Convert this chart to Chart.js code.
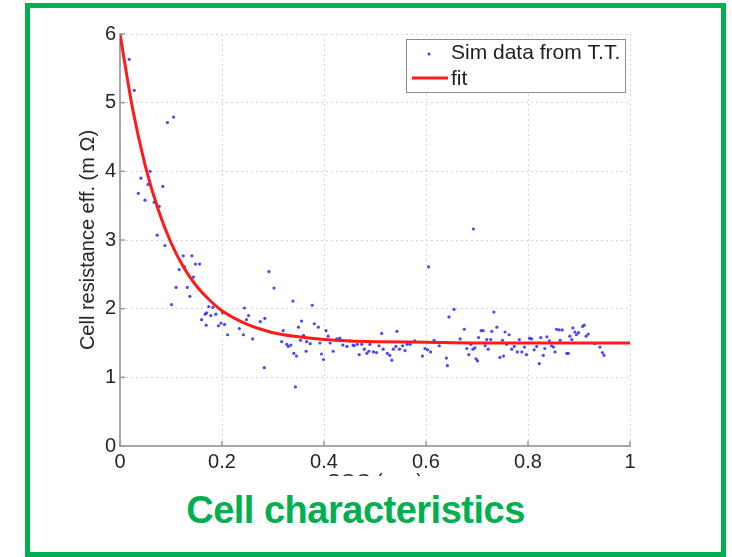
<!DOCTYPE html>
<html lang="en">
<head>
    <meta charset="UTF-8">
    <title>Cell characteristics</title>
    <script src="https://cdn.jsdelivr.net/npm/chart.js"></script>
    <style>
        body { margin: 0; background: #fff; font-family: "Liberation Sans", Arial, sans-serif; }
        #chart { position: absolute; left: 0; top: 0; }
        .frame {
            position: absolute; left: 25px; top: 3px;
            width: 691px; height: 544px;
            border: 5px solid #00b050;
            pointer-events: none;
        }
        .caption {
            position: absolute; left: 30px; top: 476px;
            width: 651px; height: 71px;
            padding-top: 15px; box-sizing: border-box;
            background: #fff;
            color: #00b050; font-weight: bold; font-size: 38px; line-height: 38px;
            text-align: center; letter-spacing: -0.5px;
        }
    </style>
</head>
<body>
    <canvas id="chart" width="732" height="557"></canvas>
    <div class="caption">Cell characteristics</div>
    <div class="frame"></div>

    <script>
        // simulated points (SOC, resistance)
        const simX = [0.018, 0.028, 0.036, 0.041, 0.049, 0.055, 0.059, 0.067, 0.073, 0.077, 0.084, 0.088, 0.093, 0.101, 0.105, 0.110, 0.116, 0.124, 0.127, 0.132,
            0.137, 0.141, 0.144, 0.148, 0.156, 0.160, 0.167, 0.169, 0.170, 0.174, 0.178, 0.182, 0.188, 0.193, 0.198, 0.201, 0.205, 0.211, 0.234, 0.242,
            0.244, 0.248, 0.252, 0.260, 0.275, 0.283, 0.284, 0.292, 0.302, 0.317, 0.320, 0.327, 0.330, 0.335, 0.339, 0.341, 0.344, 0.346, 0.350, 0.354,
            0.356, 0.360, 0.365, 0.366, 0.373, 0.377, 0.381, 0.389, 0.392, 0.395, 0.399, 0.404, 0.408, 0.412, 0.418, 0.425, 0.431, 0.437, 0.445, 0.451,
            0.457, 0.459, 0.465, 0.469, 0.474, 0.479, 0.484, 0.488, 0.490, 0.497, 0.503, 0.508, 0.513, 0.516, 0.524, 0.529, 0.533, 0.536, 0.541, 0.543,
            0.548, 0.554, 0.559, 0.563, 0.569, 0.578, 0.593, 0.598, 0.603, 0.605, 0.609, 0.616, 0.626, 0.640, 0.642, 0.645, 0.655, 0.667, 0.675, 0.680,
            0.684, 0.688, 0.692, 0.693, 0.696, 0.698, 0.701, 0.703, 0.708, 0.712, 0.716, 0.719, 0.722, 0.727, 0.729, 0.733, 0.739, 0.745, 0.750, 0.752,
            0.755, 0.758, 0.763, 0.768, 0.773, 0.779, 0.783, 0.788, 0.793, 0.797, 0.803, 0.807, 0.812, 0.817, 0.822, 0.825, 0.830, 0.833, 0.837, 0.842,
            0.846, 0.850, 0.853, 0.856, 0.861, 0.863, 0.867, 0.876, 0.879, 0.882, 0.886, 0.888, 0.892, 0.895, 0.899, 0.907, 0.910, 0.914, 0.918, 0.931,
            0.941, 0.946, 0.949];
        const simY = [5.63, 5.18, 3.68, 3.90, 3.58, 3.81, 4.00, 3.55, 3.07, 3.49, 3.78, 2.92, 4.71, 2.06, 4.79, 2.31, 2.57, 2.77, 2.61, 2.31,
            2.18, 2.77, 2.46, 2.65, 2.65, 1.84, 1.92, 1.76, 1.94, 2.03, 1.90, 2.02, 1.92, 1.75, 1.79, 1.94, 1.77, 1.62, 1.71, 1.62,
            2.01, 1.84, 1.90, 1.56, 1.81, 1.14, 1.86, 2.54, 2.30, 1.52, 1.68, 1.48, 1.45, 1.47, 2.11, 1.35, 0.86, 1.31, 1.73, 1.54,
            1.82, 1.61, 1.38, 1.52, 1.49, 2.05, 1.78, 1.73, 1.50, 1.34, 1.26, 1.68, 1.60, 1.50, 1.38, 1.56, 1.57, 1.47, 1.45, 1.53,
            1.47, 1.46, 1.48, 1.33, 1.48, 1.41, 1.35, 1.38, 1.48, 1.37, 1.36, 1.46, 1.64, 1.41, 1.35, 1.32, 1.25, 1.41, 1.45, 1.67,
            1.41, 1.46, 1.39, 1.48, 1.48, 1.53, 1.31, 1.42, 1.40, 2.61, 1.37, 1.54, 1.46, 1.28, 1.17, 1.88, 1.99, 1.56, 1.70, 1.42,
            1.33, 1.48, 1.41, 3.16, 1.43, 1.27, 1.24, 1.58, 1.68, 1.68, 1.46, 1.55, 1.41, 1.55, 1.67, 1.95, 1.73, 1.29, 1.54, 1.31,
            1.66, 1.48, 1.62, 1.41, 1.45, 1.37, 1.55, 1.37, 1.44, 1.33, 1.57, 1.56, 1.40, 1.45, 1.20, 1.58, 1.32, 1.42, 1.59, 1.53,
            1.46, 1.44, 1.37, 1.70, 1.69, 1.54, 1.69, 1.35, 1.35, 1.60, 1.55, 1.72, 1.66, 1.62, 1.65, 1.74, 1.76, 1.60, 1.63, 1.49,
            1.44, 1.36, 1.32];

        // fit curve
        const fitX = [0, 0.025, 0.05, 0.075, 0.1, 0.125, 0.15, 0.175, 0.2, 0.25, 0.3, 0.35, 0.4, 0.45, 0.5, 0.6, 0.7, 0.8, 0.9, 1.0];
        const fitY = [6.00, 4.90, 4.07, 3.44, 2.96, 2.60, 2.33, 2.13, 1.97, 1.77, 1.65, 1.59, 1.55, 1.53, 1.52, 1.51, 1.50, 1.50, 1.50, 1.50];

        const xTickLabels = ['0', '0.2', '0.4', '0.6', '0.8', '1'];
        const yTickLabels = ['0', '1', '2', '3', '4', '5', '6'];

        const seriesNames = ['Sim data from T.T.', 'fit'];

        const simPoints = simX.map((x, i) => ({ x: x, y: simY[i] }));
        const fitPoints = fitX.map((x, i) => ({ x: x, y: fitY[i] }));

        const font = 'Liberation Sans, Arial, sans-serif';

        // inward ticks and the boxed legend, like the matlab figure
        const matlabBits = {
            id: 'matlabBits',
            afterDatasetsDraw(chart) {
                const ctx = chart.ctx;
                const area = chart.chartArea;
                const xs = chart.scales.x, ys = chart.scales.y;
                ctx.save();
                ctx.strokeStyle = '#9a9a9a';
                ctx.lineWidth = 1.5;
                xs.ticks.forEach(t => {
                    const px = xs.getPixelForValue(t.value);
                    ctx.beginPath();
                    ctx.moveTo(px, area.bottom);
                    ctx.lineTo(px, area.bottom - 5);
                    ctx.stroke();
                });
                ys.ticks.forEach(t => {
                    const py = ys.getPixelForValue(t.value);
                    ctx.beginPath();
                    ctx.moveTo(area.left, py);
                    ctx.lineTo(area.left + 5, py);
                    ctx.stroke();
                });

                // legend box
                const bx = area.right - 224, by = area.top + 5, bw = 219, bh = 53;
                ctx.fillStyle = '#fff';
                ctx.fillRect(bx, by, bw, bh);
                ctx.strokeStyle = '#8c8c8c';
                ctx.lineWidth = 1;
                ctx.strokeRect(bx + 0.5, by + 0.5, bw, bh);

                ctx.fillStyle = 'rgba(40,40,255,0.9)';
                ctx.beginPath();
                ctx.arc(bx + 23, by + 15, 1.5, 0, Math.PI * 2);
                ctx.fill();

                ctx.strokeStyle = '#ff1a1a';
                ctx.lineWidth = 3;
                ctx.beginPath();
                ctx.moveTo(bx + 6, by + 39);
                ctx.lineTo(bx + 42, by + 39);
                ctx.stroke();

                ctx.fillStyle = '#1e1e1e';
                ctx.font = '21px ' + font;
                ctx.textBaseline = 'middle';
                ctx.fillText(seriesNames[0], bx + 45, by + 14);
                ctx.fillText(seriesNames[1], bx + 45, by + 40);
                ctx.restore();
            }
        };

        new Chart(document.getElementById('chart'), {
            type: 'scatter',
            data: {
                datasets: [{
                    label: seriesNames[0],
                    data: simPoints,
                    pointRadius: 1.6,
                    pointBackgroundColor: 'rgba(40,40,255,0.85)',
                    pointBorderWidth: 0,
                    order: 2
                }, {
                    label: seriesNames[1],
                    data: fitPoints,
                    showLine: true,
                    borderColor: '#ff1a1a',
                    borderWidth: 3,
                    pointRadius: 0,
                    cubicInterpolationMode: 'monotone',
                    order: 1
                }]
            },
            options: {
                responsive: false,
                animation: false,
                layout: { padding: { left: 0, top: 34, right: 102, bottom: 0 } },
                plugins: {
                    legend: { display: false },
                    tooltip: { enabled: false }
                },
                scales: {
                    x: {
                        type: 'linear', min: 0, max: 1,
                        afterFit: s => { s.height = 111; },
                        ticks: {
                            stepSize: 0.2,
                            padding: 4,
                            color: '#262626',
                            font: { family: font, size: 20 },
                            callback: (v, i) => xTickLabels[i]
                        },
                        grid: { color: '#d6d6d6', drawTicks: false },
                        border: { color: '#a8a8a8', width: 2, dash: [2, 3] },
                        title: {
                            display: true, text: 'SOC (p.u.)', color: '#262626',
                            font: { family: font, size: 20 }, padding: { top: 0, bottom: 63 }
                        }
                    },
                    y: {
                        min: 0, max: 6,
                        afterFit: s => { s.width = 120; },
                        ticks: {
                            stepSize: 1,
                            padding: 4,
                            color: '#262626',
                            font: { family: font, size: 20 },
                            callback: (v, i) => yTickLabels[i]
                        },
                        grid: { color: '#d6d6d6', drawTicks: false },
                        border: { color: '#a8a8a8', width: 2, dash: [2, 3] },
                        title: {
                            display: true, text: 'Cell resistance eff. (m Ω)', color: '#262626',
                            font: { family: font, size: 20 }, padding: { top: 76, bottom: 0 }
                        }
                    }
                }
            },
            plugins: [matlabBits]
        });
    </script>
</body>
</html>
